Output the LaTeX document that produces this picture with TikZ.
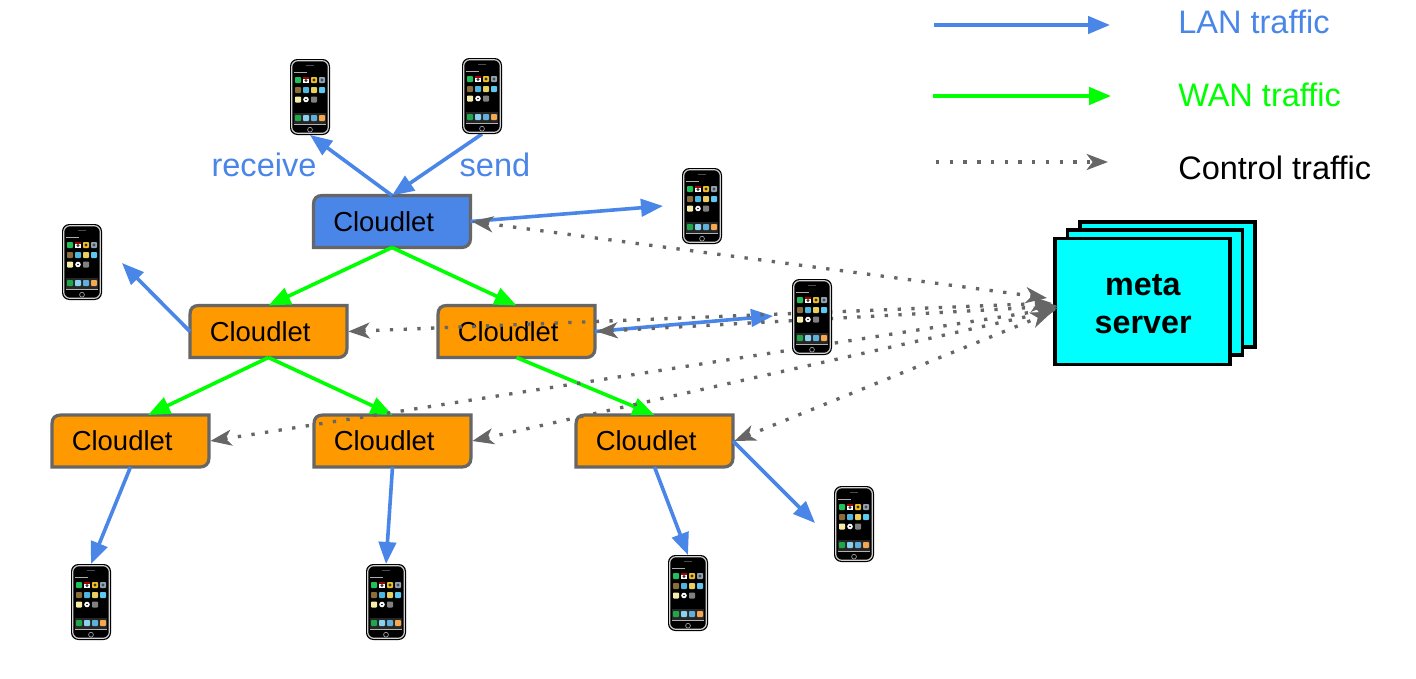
\documentclass[tikz,border=0pt]{standalone}
\usepackage{fontspec}
\setmainfont{Liberation Sans}
\usetikzlibrary{arrows.meta}
\definecolor{lanblue}{HTML}{4A86E8}
\definecolor{wangreen}{HTML}{00FF00}
\definecolor{ctrlgray}{HTML}{666666}
\definecolor{cloudorange}{HTML}{FF9900}
\definecolor{metacyan}{HTML}{00FFFF}
\definecolor{icA}{HTML}{22C05A}\definecolor{icB}{HTML}{C9B7B0}\definecolor{icC}{HTML}{F0C020}\definecolor{icD}{HTML}{8FA3B5}
\definecolor{icE}{HTML}{8A6D3B}\definecolor{icF}{HTML}{4FB6E0}\definecolor{icG}{HTML}{E8D060}\definecolor{icH}{HTML}{5FC8F0}
\definecolor{icI}{HTML}{F8EDA8}\definecolor{icK}{HTML}{808080}
\definecolor{icL}{HTML}{1EA84A}\definecolor{icM}{HTML}{8CD0F0}\definecolor{icN}{HTML}{60B0DC}\definecolor{icO}{HTML}{F5A850}
\tikzset{
  x=0.75pt,y=-0.75pt,
  boxline/.style={draw=ctrlgray,line width=2.4pt,line join=miter},
  cloudtext/.style={font=\fontsize{20.6}{24}\selectfont,minimum width=117.75pt,minimum height=39pt,inner sep=0pt,outer sep=0pt,text=black},
  lan/.style={draw=lanblue,line width=2.7pt,-{Triangle[length=16.5pt,width=13pt]}},
  wan/.style={draw=wangreen,line width=2.7pt,-{Triangle[length=16.5pt,width=13pt]}},
  ctrl/.style={draw=ctrlgray,line width=2.5pt,dash pattern=on 2.5pt off 7.8pt,{Stealth[length=16pt,width=12pt,inset=4.5pt]}-{Stealth[length=16pt,width=12pt,inset=4.5pt]}},
  ctrlone/.style={draw=ctrlgray,line width=2.5pt,dash pattern=on 2.5pt off 7.8pt,-{Stealth[length=16pt,width=12pt,inset=4.5pt]}},
  metabox/.style={draw=black,fill=metacyan,line width=2.3pt,line join=miter},
  legendtext/.style={font=\fontsize{24.4}{28}\selectfont,anchor=west,inner sep=0pt},
  phonespot/.style={minimum width=30pt,minimum height=57pt,inner sep=0pt,outer sep=0pt},
}
% l, t, colour, name
\newcommand{\cloudletbox}[4]{%
  \begin{scope}[shift={(#1,#2)}]
    \draw[boxline,fill=#3] (9,0) -- (157,0) -- (157,43) .. controls (157,49) and (153,52) .. (148,52)
      -- (0,52) -- (0,9) .. controls (0,3) and (3,0) .. (9,0) -- cycle;
    \node[cloudtext] (#4) at (78.5,26) {\hspace*{-12.5pt}Cloudlet};
  \end{scope}}
\newcommand{\phoneart}[2]{%
  \begin{scope}[shift={(#1,#2)}]
    \fill[black,rounded corners=5.5pt] (0,0) rectangle (40,76);
    \draw[gray!35,line width=0.9pt,rounded corners=4.6pt] (1.7,1.7) rectangle (38.3,74.3);
    \fill[gray!60!black] (16,6.2) rectangle (24,7.2);
    \fill[gray!65] (4,13) rectangle (17,14);
    \fill[black!85] (4,54) rectangle (36,65);
    \fill[gray!60] (4,65) rectangle (36,65.8);
    \foreach \c/\px/\py in {icA/5/18,icC/21/18,icD/29/18,
                            icE/5/28,icF/13/28,icG/21/28,icH/29/28,
                            icI/5/37.5,icK/21/37.5,
                            icL/5/56,icM/13/56,icN/21/56,icO/29/56}
      {\fill[\c,rounded corners=0.6pt] (\px,\py) rectangle +(6,6);}
    \fill[white] (13,18) rectangle (19,24);
    \fill[red!65!black] (13,18) rectangle (19,19.5);
    \fill[black!80] (16,21.5) circle (1.6);
    \fill[black!80] (24,21) circle (1.6);
    \fill[black!70] (32,21) circle (1.6);
    \fill[white] (16,40.5) circle (2.8);
    \fill[black] (16,40.5) circle (0.8);
    \draw[gray!70,line width=0.5pt] (20,70.7) circle (2.4);
  \end{scope}}
\begin{document}
\begin{tikzpicture}
\useasboundingbox (0,0) rectangle (1416,678);
\fill[white] (0,0) rectangle (1416,678);
% cloudlets
\cloudletbox{313.5}{195.5}{lanblue}{cb}
\cloudletbox{190}{305.5}{cloudorange}{ca}
\cloudletbox{438}{305.5}{cloudorange}{cc}
\cloudletbox{52}{415}{cloudorange}{cd}
\cloudletbox{314}{415}{cloudorange}{ce}
\cloudletbox{576}{415}{cloudorange}{cf}
% meta server
\draw[metabox] (1080,222) rectangle (1255,347);
\draw[metabox] (1067.5,230) rectangle (1242.5,355);
\node[metabox,minimum width=131.25pt,minimum height=94.5pt,inner sep=0pt,outer sep=0pt,align=center,
      font=\bfseries\fontsize{24.2}{29}\selectfont] (meta) at (1142.5,301.5) {\rule{0pt}{19.5pt}\hspace*{0.5pt}meta\\\hspace*{1pt}server};
% phone placeholders
\foreach \n/\px/\py in {pa/290/59,pb/462/58,pc/682/168,pd/62/224,pe/792/279,pf/71/564,pg/366/564,ph/668/555,pi/834/486}
  {\node[phonespot] (\n) at (\px+20,\py+38) {};}
% free ends
\coordinate (tc) at (663,206);
\coordinate (td) at (122,263);
\coordinate (te) at (773,316);
\coordinate (ti) at (815,523);
\coordinate (gd) at (148,415);
\coordinate (me1) at (1047,298);
\coordinate (me2) at (1052,303);
\coordinate (me3) at (1058,306);
\coordinate (me4) at (1058,308);
\coordinate (me5) at (1056,310);
\coordinate (me6) at (1052,312);
% LAN
\draw[lan] (cb.north) -- (pa.south);
\draw[lan] (pb.south) -- (cb.north);
\draw[lan] (cb.east) -- (tc);
\draw[lan] (ca.west) -- (td);
\draw[lan] (cc.east) -- (te);
\draw[lan] (cd.south) -- (pf.north);
\draw[lan] (ce.south) -- (pg.north);
\draw[lan] (cf.south) -- (ph.north);
\draw[lan] (cf.east) -- (ti);
% WAN
\draw[wan] (cb.south) -- (ca.north);
\draw[wan] (cb.south) -- (cc.north);
\draw[wan] (ca.south) -- (gd);
\draw[wan] (ca.south) -- (ce.north);
\draw[wan] (cc.south) -- (cf.north);
% control
\draw[ctrl] ([xshift=1pt]cb.east) -- (me1);
\draw[ctrl] ([xshift=1pt]ca.east) -- (me2);
\draw[ctrl] ([xshift=1pt]cc.east) -- (me3);
\draw[ctrl] ([xshift=1pt]cd.east) -- (me4);
\draw[ctrl] ([xshift=1pt]ce.east) -- (me5);
\draw[ctrl] ([xshift=1pt]cf.east) -- (me6);
% phones
\phoneart{290}{59}\phoneart{462}{58}\phoneart{682}{168}\phoneart{62}{224}\phoneart{792}{279}
\phoneart{71}{564}\phoneart{366}{564}\phoneart{668}{555}\phoneart{834}{486}
% labels
\node[font=\fontsize{24.4}{28}\selectfont,text=lanblue,inner sep=0pt] (lrecv) at (264,165) {receive};
\node[font=\fontsize{24.4}{28}\selectfont,text=lanblue,inner sep=0pt] (lsend) at (495,165) {send};
% legend
\coordinate (la) at (934,25);\coordinate (lb) at (1110,25);
\coordinate (wa) at (933,96);\coordinate (wb) at (1111,96);
\coordinate (ca0) at (936,162);\coordinate (cb0) at (1108,162);
\draw[lan] (la) -- (lb);
\draw[wan] (wa) -- (wb);
\draw[ctrlone] (ca0) -- (cb0);
\node[legendtext,text=lanblue] (tl) at (1178,22) {LAN traffic};
\node[legendtext,text=wangreen] (tw) at (1178,95) {WAN traffic};
\node[legendtext,text=black] (tk) at (1178,168) {Control traffic};
\end{tikzpicture}
\end{document}
